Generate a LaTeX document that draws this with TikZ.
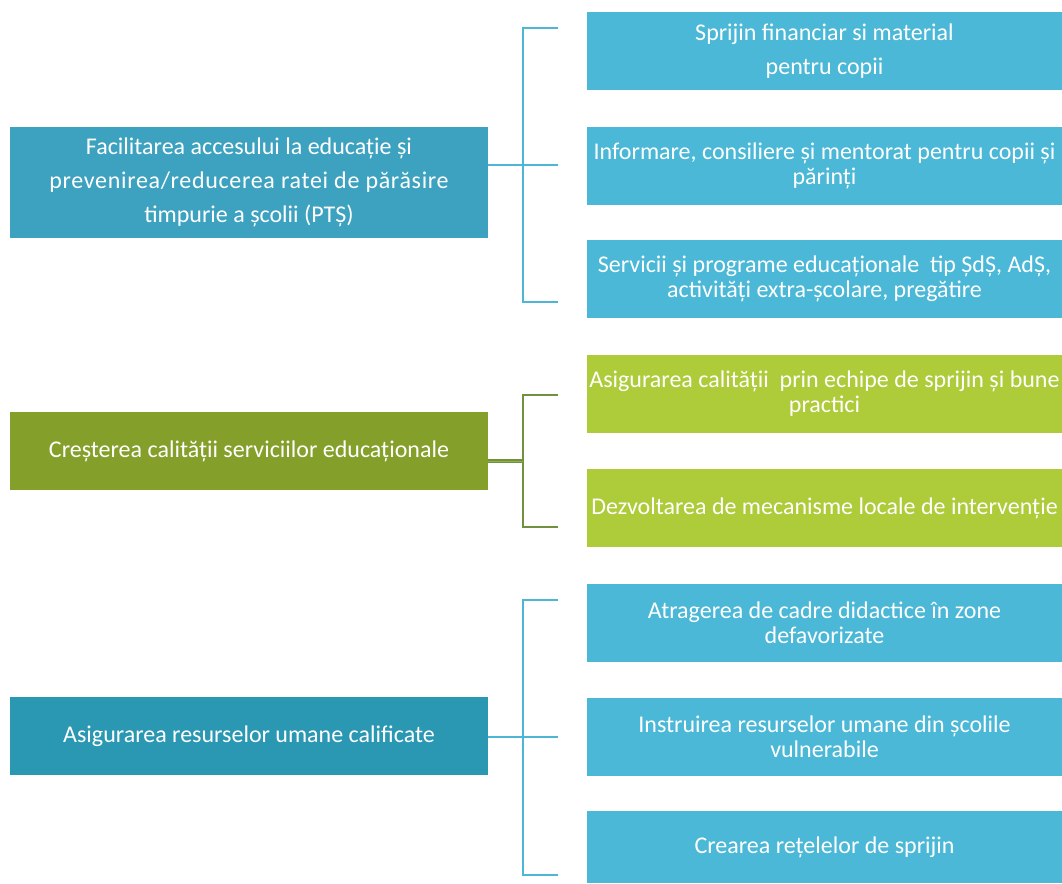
\documentclass[tikz,border=0pt]{standalone}
\usepackage{fontspec}
\setmainfont{Carlito}
\newfontfamily\spacedfont[LetterSpace=2.8]{Carlito}
\definecolor{lblue}{HTML}{3DA2C0}
\definecolor{lblueB}{HTML}{2A97B3}
\definecolor{rblue}{HTML}{4AB8D6}
\definecolor{lgreen}{HTML}{84A02B}
\definecolor{rgreen}{HTML}{AECB3A}
\definecolor{bline}{HTML}{4DB6D6}
\definecolor{gline}{HTML}{6F9140}
\begin{document}
\begin{tikzpicture}[x=1pt,y=-1pt,
  box/.style={rectangle,inner sep=0pt,text=white,align=center,
    font=\fontsize{24}{25}\selectfont},
  leftbox/.style={box,minimum width=478pt},
  rightbox/.style={box,minimum width=475pt,minimum height=78pt},
  bconn/.style={draw=bline,line width=1.8pt},
  gconn/.style={draw=gline,line width=1.8pt}]
\useasboundingbox (0,0) rectangle (1062,883);
% left boxes
\node[leftbox,fill=lblue,minimum height=111pt] (L1) at (249,182.5)
  {Facilitarea accesului la educație și\\[9pt] {\spacedfont prevenirea/reducerea ratei de părăsire}\\[9pt] timpurie a școlii (PTȘ)};
\node[leftbox,fill=lgreen,minimum height=78pt] (L2) at (249,451)
  {Creșterea calității serviciilor educaționale};
\node[leftbox,fill=lblueB,minimum height=78pt] (L3) at (249,736)
  {Asigurarea resurselor umane calificate};
% right boxes group 1
\node[rightbox,fill=rblue] (R1) at (824.5,51) {Sprijin financiar si material\\[9pt] pentru copii};
\node[rightbox,fill=rblue] (R2) at (824.5,166) {Informare, consiliere și mentorat pentru copii și\\ părinți};
\node[rightbox,fill=rblue] (R3) at (824.5,279) {Servicii și programe educaționale\ \ tip ȘdȘ, AdȘ,\\ activități extra-școlare, pregătire};
% group 2
\node[rightbox,fill=rgreen] (G1) at (824.5,394) {Asigurarea calității\ \ prin echipe de sprijin și bune\\ practici};
\node[rightbox,fill=rgreen] (G2) at (824.5,508) {Dezvoltarea de mecanisme locale de intervenție};
% group 3
\node[rightbox,fill=rblue] (B1) at (824.5,623) {Atragerea de cadre didactice în zone\\ defavorizate};
\node[rightbox,fill=rblue] (B2) at (824.5,737) {Instruirea resurselor umane din școlile\\ vulnerabile};
\node[rightbox,fill=rblue,minimum height=72pt] (B3) at (824.5,847) {Crearea rețelelor de sprijin};
% bracket coordinates
\coordinate (a1t) at (558,28);  \coordinate (a1b) at (558,302);
\coordinate (a2t) at (558,395); \coordinate (a2b) at (558,527);
\coordinate (a3t) at (558,600); \coordinate (a3b) at (558,875);
\coordinate (m1) at (558,165);
\coordinate (m2) at (523,461);
\coordinate (m3) at (558,737);
% connectors group 1
\draw[bconn] (a1t) -- ++(-35,0) |- (a1b);
\draw[bconn] (L1.east |- m1) -- (m1);
% group 2
\draw[gconn] (a2t) -- ++(-35,0) |- (a2b);
\draw[draw=gline,line width=3.6pt] (L2.east |- m2) -- (m2);
\draw[draw=rgreen!55!gline,line width=1pt] (L2.east |- m2) -- (m2);
% group 3
\draw[bconn] (a3t) -- ++(-35,0) |- (a3b);
\draw[bconn] (L3.east |- m3) -- (m3);
\end{tikzpicture}
\end{document}
